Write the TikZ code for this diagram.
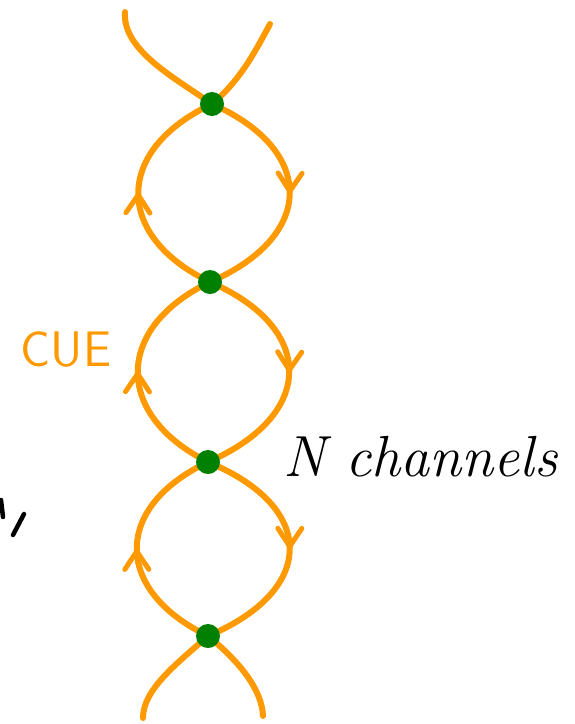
\documentclass[tikz,border=0pt]{standalone}
\definecolor{cueorange}{RGB}{255,153,0}
\definecolor{vertgreen}{RGB}{0,128,0}
\usetikzlibrary{positioning,arrows.meta,decorations.markings,backgrounds}

\begin{document}
\begin{tikzpicture}[x=1pt,y=-1pt,
    strand/.style={draw=cueorange,line width=6pt,line cap=round},
    flow/.style={strand,postaction={decorate},
      decoration={markings,mark=at position 0.5 with {\arrow{Straight Barb[length=18pt,width=24pt,line width=5pt,round]}}}},
    vertex/.style={circle,fill=vertgreen,inner sep=0pt,minimum size=24pt},
    ink/.style={line width=4.5pt,line cap=round}]
  \useasboundingbox (0,0) rectangle (575,724);

  % vertices of the chain
  \node[vertex] (v1) at (212,104) {};
  \node[vertex] (v2) at (210,282) {};
  \node[vertex] (v3) at (208,462) {};
  \node[vertex] (v4) at (208,636) {};

  \coordinate (topl) at (125,12);
  \coordinate (topr) at (270,24);
  \coordinate (botl) at (143,718);
  \coordinate (botr) at (263,716);

  \begin{scope}[on background layer]
    \draw[strand] (topl) .. controls (122,50) and (175,78) .. (v1.center);
    \draw[strand] (topr) .. controls (252,58) and (238,82) .. (v1.center);
    % loops: up on the left, down on the right
    \draw[flow] (v2.center) .. controls (114,236) and (114,150) .. (v1.center);
    \draw[flow] (v1.center) .. controls (316,150) and (316,236) .. (v2.center);
    \draw[flow] (v3.center) .. controls (114,415) and (114,328) .. (v2.center);
    \draw[flow] (v2.center) .. controls (316,328) and (316,415) .. (v3.center);
    \draw[flow] (v4.center) .. controls (113,590) and (113,507) .. (v3.center);
    \draw[flow] (v3.center) .. controls (317,507) and (317,590) .. (v4.center);
    \draw[strand] (v4.center) .. controls (175,665) and (143,690) .. (botl);
    \draw[strand] (v4.center) .. controls (240,662) and (262,690) .. (botr);
  \end{scope}

  \node[text=cueorange,font=\fontsize{50}{50}\selectfont\sffamily] (cue) at (66,350) {CUE};
  \node[font=\fontsize{58}{58}\selectfont\itshape,anchor=base west,inner sep=0pt] (nch) at (283,476) {N channels};

  \draw[ink] (1,500) -- (3,517);
  \draw[ink] (24,514) -- (13,535);
\end{tikzpicture}
\end{document}
